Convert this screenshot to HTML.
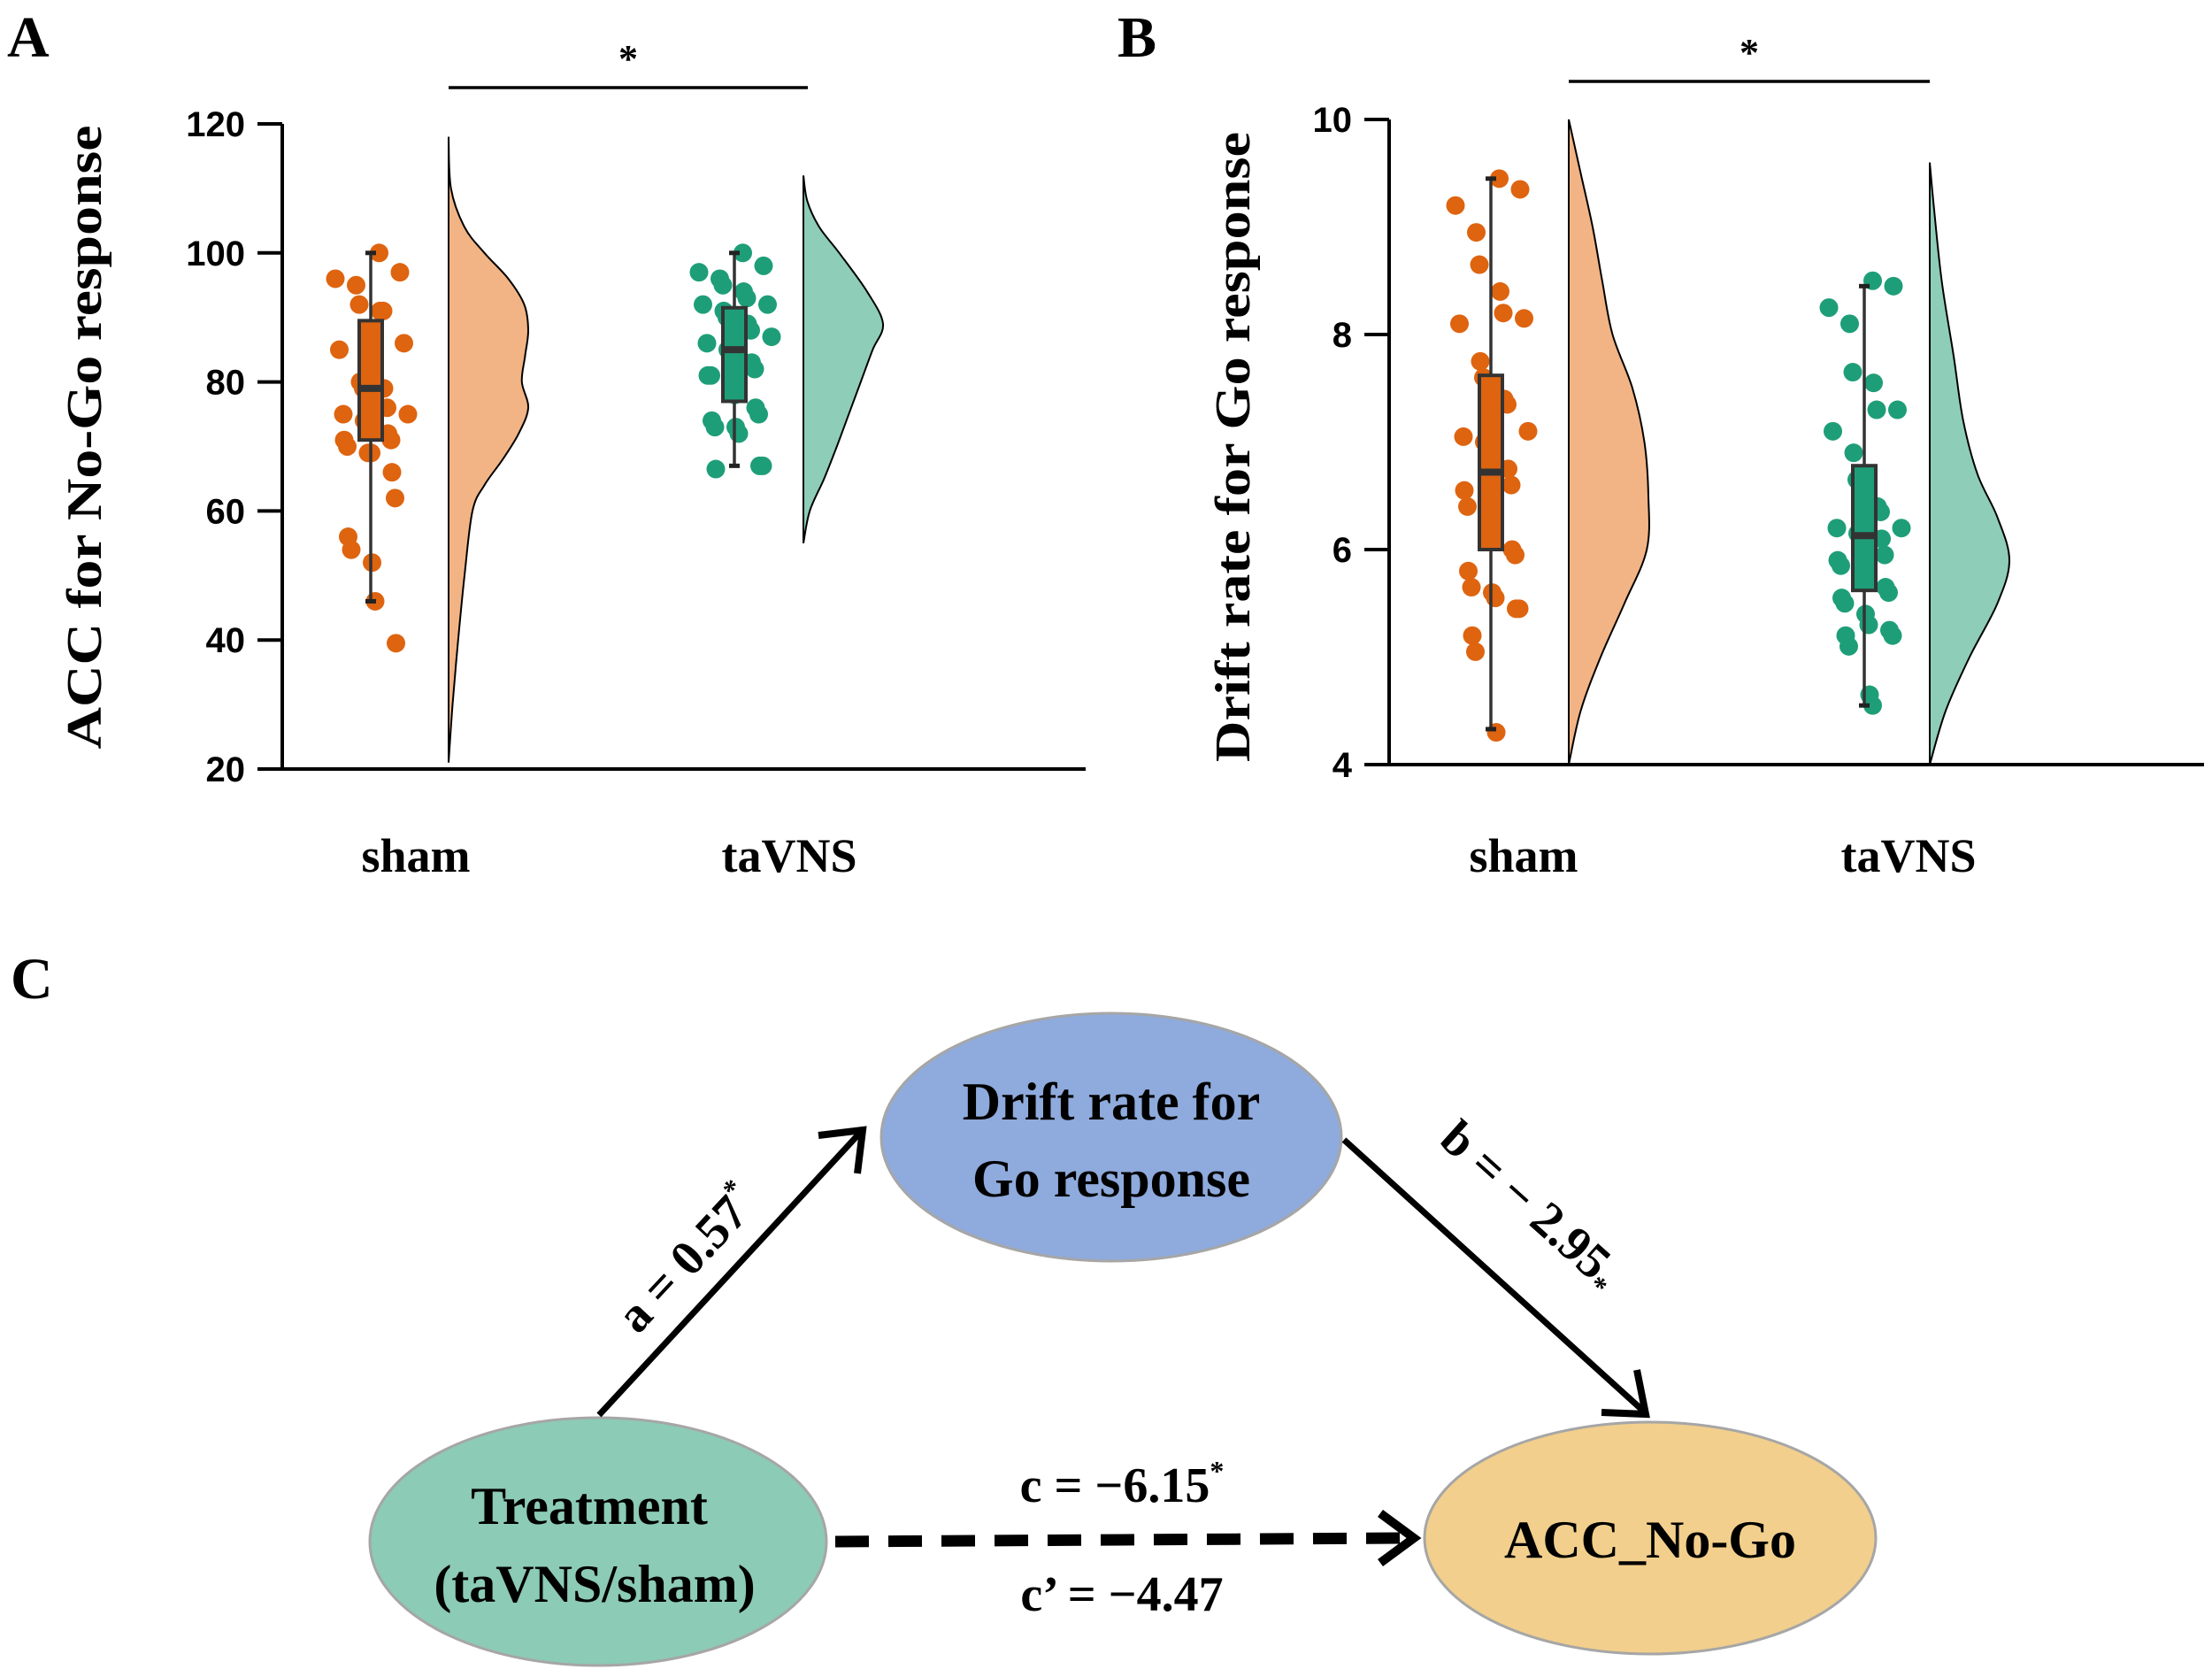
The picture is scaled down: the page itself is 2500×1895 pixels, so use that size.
<!DOCTYPE html>
<html><head><meta charset="utf-8"><style>
html,body{margin:0;padding:0;background:#fff;}
svg{display:block;}
text{font-family:"Liberation Serif",serif;font-weight:bold;fill:#000;}
.tick{font-family:"Liberation Sans",sans-serif;font-weight:bold;font-size:40px;}
</style></head><body>
<svg id="fig" width="2500" height="1895" viewBox="0 0 2500 1895" xmlns="http://www.w3.org/2000/svg">
<g id="panelA"></g>
<g id="panelB"></g>
<g id="panelC">
  <text x="12" y="1128" font-size="66">C</text>
  <ellipse cx="1256" cy="1285" rx="260" ry="140" fill="#8FAADC" stroke="#A6A6A6" stroke-width="3"/>
  <ellipse cx="676" cy="1742" rx="258" ry="140" fill="#8CCBB5" stroke="#A6A6A6" stroke-width="3"/>
  <ellipse cx="1865" cy="1738" rx="255" ry="131" fill="#F2CF8C" stroke="#A6A6A6" stroke-width="3"/>
  <line x1="677" y1="1599" x2="972" y2="1280" stroke="#000" stroke-width="7"/>
  <path d="M925,1283 L975,1277 L969,1326" fill="none" stroke="#000" stroke-width="8"/>
  <line x1="1519" y1="1288" x2="1858" y2="1595" stroke="#000" stroke-width="7"/>
  <path d="M1850,1548 L1860,1598 L1810,1596" fill="none" stroke="#000" stroke-width="8"/>
  <line x1="944" y1="1742" x2="1590" y2="1738" stroke="#000" stroke-width="13" stroke-dasharray="38,22"/>
  <path d="M1560,1710 L1598,1738 L1560,1766" fill="none" stroke="#000" stroke-width="10"/>
  <text x="1256" y="1265" font-size="60" text-anchor="middle">Drift rate for</text>
  <text x="1256" y="1352" font-size="60" text-anchor="middle">Go response</text>
  <text x="666" y="1722" font-size="60" text-anchor="middle">Treatment</text>
  <text x="672" y="1810" font-size="60" text-anchor="middle">(taVNS/sham)</text>
  <text x="1865" y="1760" font-size="60" text-anchor="middle">ACC_No-Go</text>
  <text x="1268" y="1697" font-size="56" text-anchor="middle">c = −6.15<tspan font-size="32" dy="-24">*</tspan></text>
  <text x="1268" y="1820" font-size="56" text-anchor="middle">c’ = −4.47</text>
  <text transform="translate(790,1435) rotate(-47)" font-size="56" text-anchor="middle">a = 0.57<tspan font-size="32" dy="-24">*</tspan></text>
  <text transform="translate(1718,1375) rotate(42)" font-size="56" text-anchor="middle">b = − 2.95<tspan font-size="32" dy="10">*</tspan></text>
</g>
</svg>
<script>
// ---------- Panel A data (ACC for No-Go) ----------
const categories = ['sham', 'taVNS'];
const accTicks = [20, 40, 60, 80, 100, 120];
const accShamPoints = [100, 97, 96, 95, 92, 91, 91, 86, 85, 80, 79, 79, 76, 75, 75, 74, 73, 72, 71, 71, 70, 69, 69, 66, 62, 56, 54, 52, 46, 39.5];
const accTavnsPoints = [100, 98, 97, 96, 95, 94, 93, 92, 92, 91, 90, 89, 88, 87, 86, 85, 84, 83, 82, 81, 81, 80, 78, 76, 75, 74, 73, 73, 72, 67, 67, 66.5];
const accShamBox = [46, 71, 79, 89.5, 100];
const accTavnsBox = [67, 77, 85, 91.5, 100];
const accShamViolinY = [118, 110, 104, 100, 96, 92, 88, 84, 80, 76, 72, 68, 64, 60, 50, 40, 30, 21];
const accShamViolinD = [0, 0.03, 0.2, 0.45, 0.75, 0.95, 1.0, 0.96, 0.92, 1.0, 0.88, 0.68, 0.45, 0.3, 0.2, 0.12, 0.05, 0];
const accTavnsViolinY = [112, 108, 104, 100, 94, 89, 85, 80, 75, 70, 65, 60, 55];
const accTavnsViolinD = [0, 0.05, 0.2, 0.45, 0.8, 1.0, 0.87, 0.72, 0.57, 0.42, 0.26, 0.08, 0];
// ---------- Panel B data (drift rate) ----------
const driftTicks = [4, 6, 8, 10];
const driftShamPoints = [9.45, 9.35, 9.2, 8.95, 8.65, 8.4, 8.2, 8.15, 8.1, 7.75, 7.6, 7.4, 7.35, 7.1, 7.05, 7.0, 6.8, 6.75, 6.6, 6.55, 6.4, 6.35, 6.1, 6.0, 5.95, 5.8, 5.65, 5.6, 5.55, 5.45, 5.45, 5.2, 5.05, 4.3];
const driftTavnsPoints = [8.5, 8.45, 8.25, 8.1, 7.65, 7.55, 7.3, 7.3, 7.1, 6.9, 6.65, 6.4, 6.35, 6.2, 6.2, 6.15, 6.15, 6.1, 5.95, 5.9, 5.85, 5.8, 5.75, 5.65, 5.6, 5.55, 5.5, 5.4, 5.3, 5.25, 5.2, 5.2, 5.1, 4.65, 4.55];
const driftShamBox = [4.33, 6.0, 6.72, 7.62, 9.45];
const driftTavnsBox = [4.55, 5.62, 6.13, 6.78, 8.45];
const driftShamViolinY = [10, 9.5, 9, 8.5, 8, 7.5, 7, 6.5, 6, 5.5, 5, 4.5, 4];
const driftShamViolinD = [0, 0.15, 0.3, 0.42, 0.55, 0.8, 0.95, 1.0, 0.98, 0.7, 0.4, 0.15, 0];
const driftTavnsViolinY = [9.6, 9.2, 8.5, 7.8, 7.2, 6.7, 6.3, 5.9, 5.5, 5.0, 4.5, 4];
const driftTavnsViolinD = [0, 0.05, 0.15, 0.3, 0.42, 0.6, 0.85, 1.0, 0.85, 0.5, 0.2, 0];

const NS = 'http://www.w3.org/2000/svg';
function mk(parent, tag, attrs) {
  const e = document.createElementNS(NS, tag);
  for (const k in attrs) e.setAttribute(k, attrs[k]);
  parent.appendChild(e);
  return e;
}
const ORANGE = '#DE6410', GREEN = '#1E9E78';
const ORANGE_L = '#F2B485', GREEN_L = '#8ECDB8';

function smoothPath(pts) {
  let d = `M${pts[0][0]},${pts[0][1]}`;
  for (let k = 0; k < pts.length - 1; k++) {
    const p0 = pts[Math.max(k - 1, 0)], p1 = pts[k], p2 = pts[k + 1], p3 = pts[Math.min(k + 2, pts.length - 1)];
    const c1 = [p1[0] + (p2[0] - p0[0]) / 6, p1[1] + (p2[1] - p0[1]) / 6];
    const c2 = [p2[0] - (p3[0] - p1[0]) / 6, p2[1] - (p3[1] - p1[1]) / 6];
    d += ` C${c1[0]},${c1[1]} ${c2[0]},${c2[1]} ${p2[0]},${p2[1]}`;
  }
  return d;
}

function drawPanel(g, cfg) {
  const yScale = v => cfg.y0 + (v - cfg.vmin) / (cfg.vmax - cfg.vmin) * (cfg.y1 - cfg.y0);
  const x = i => cfg.boxX[i];
  const ya = mk(g, 'line', {x1: cfg.axX, y1: yScale(cfg.vmax), x2: cfg.axX, y2: yScale(cfg.vmin), stroke: '#000', 'stroke-width': 4});
  
  
  const xa = mk(g, 'line', {x1: cfg.axX - 28, y1: yScale(cfg.vmin), x2: cfg.xEnd, y2: yScale(cfg.vmin), stroke: '#000', 'stroke-width': 4});
  
  
  cfg.ticks.forEach(t => {
    const tl = mk(g, 'line', {x1: cfg.axX - 28, y1: yScale(t), x2: cfg.axX, y2: yScale(t), stroke: '#000', 'stroke-width': 4});
    
    
    const tx = mk(g, 'text', {x: cfg.axX - 42, y: yScale(t) + 14, class: 'tick', 'text-anchor': 'end'});
    tx.textContent = t;
    
    
  });
  const tt = mk(g, 'text', {transform: `translate(${cfg.titleX},${cfg.titleY}) rotate(-90)`, 'text-anchor': 'middle', 'font-size': 56, textLength: cfg.titleLen, lengthAdjust: 'spacingAndGlyphs'});
  tt.textContent = cfg.title;
  
  
  const pl = mk(g, 'text', {x: cfg.letterX, y: 64, 'font-size': 66});
  pl.textContent = cfg.letter;
  
  
  const sl = mk(g, 'line', {x1: cfg.sigX[0], y1: cfg.sigY, x2: cfg.sigX[1], y2: cfg.sigY, stroke: '#000', 'stroke-width': 3.5});
  
  
  const st = mk(g, 'text', {x: (cfg.sigX[0] + cfg.sigX[1]) / 2, y: cfg.sigY - 18, 'font-size': 44, 'font-weight': 'normal', 'text-anchor': 'middle'});
  st.textContent = '*';
  
  
  categories.forEach((c, i) => {
    const ct = mk(g, 'text', {x: cfg.catX[i], y: 985, 'font-size': 54, 'text-anchor': 'middle'});
    ct.textContent = c;
    
    
  });
  const cols = [ORANGE, GREEN], lcols = [ORANGE_L, GREEN_L];
  [0, 1].forEach(i => {
    const vy = cfg.violY[i], vd = cfg.violD[i];
    const pts = vy.map((v, k) => [cfg.violX[i] + vd[k] * cfg.violW, yScale(v)]);
    const d = smoothPath(pts) + ` L${cfg.violX[i]},${yScale(vy[vy.length - 1])} L${cfg.violX[i]},${yScale(vy[0])} Z`;
    const vp = mk(g, 'path', {d: d, fill: lcols[i], stroke: '#000', 'stroke-width': 2});
    
    
    cfg.pts[i].forEach((v, k) => {
      const jit = (((k * 37 + 11) % 17) / 16 - 0.5) * 72 + ((k % 2) ? 6 : -4);
      const c = mk(g, 'circle', {cx: x(i) + jit, cy: yScale(v), r: 10.5, fill: cols[i]});
      
      
    });
    const b = cfg.box[i];
    const w1 = mk(g, 'line', {x1: x(i), y1: yScale(b[0]), x2: x(i), y2: yScale(b[4]), stroke: '#333', 'stroke-width': 3.5});
    
    
    [b[0], b[4]].forEach(v => {
      const cap = mk(g, 'line', {x1: x(i) - 6, y1: yScale(v), x2: x(i) + 6, y2: yScale(v), stroke: '#222', 'stroke-width': 5});
      
      
    });
    const r = mk(g, 'rect', {x: x(i) - 13, y: yScale(b[3]), width: 26, height: yScale(b[1]) - yScale(b[3]), fill: cols[i], stroke: '#333', 'stroke-width': 4});
    
    
    const m = mk(g, 'line', {x1: x(i) - 13, y1: yScale(b[2]), x2: x(i) + 13, y2: yScale(b[2]), stroke: '#333', 'stroke-width': 8});
    
    
  });
}

drawPanel(document.getElementById('panelA'), {
  vmin: 20, vmax: 120, y0: 869, y1: 140, axX: 319, xEnd: 1227, ticks: accTicks,
  title: 'ACC  for No-Go response', titleX: 114, titleY: 494, titleLen: 705, letter: 'A', letterX: 8,
  boxX: [419, 830], violX: [507, 908], violW: 90, sigX: [507, 913], sigY: 99, catX: [470, 892],
  pts: [accShamPoints, accTavnsPoints], box: [accShamBox, accTavnsBox],
  violY: [accShamViolinY, accTavnsViolinY], violD: [accShamViolinD, accTavnsViolinD]
});
drawPanel(document.getElementById('panelB'), {
  vmin: 4, vmax: 10, y0: 864, y1: 135, axX: 1570, xEnd: 2491, ticks: driftTicks,
  title: 'Drift rate for Go response', titleX: 1412, titleY: 505, titleLen: 712, letter: 'B', letterX: 1263,
  boxX: [1685, 2107], violX: [1773, 2181], violW: 90, sigX: [1773, 2181], sigY: 92, catX: [1722, 2157],
  pts: [driftShamPoints, driftTavnsPoints], box: [driftShamBox, driftTavnsBox],
  violY: [driftShamViolinY, driftTavnsViolinY], violD: [driftShamViolinD, driftTavnsViolinD]
});
</script>
</body></html>
